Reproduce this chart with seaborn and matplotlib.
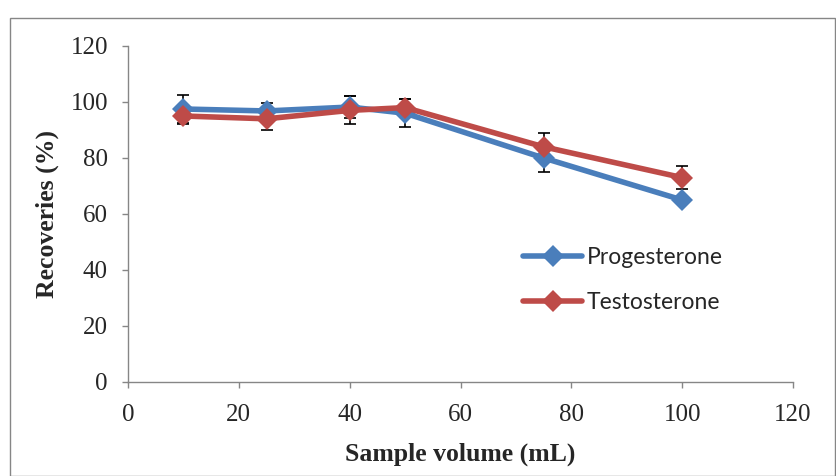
import pandas as pd
import matplotlib.pyplot as plt
import seaborn as sns
from matplotlib.patches import Rectangle

# data
volume = [10, 25, 40, 50, 75, 100]
prog = [97.5, 96.8, 98.2, 96.0, 80.0, 65.0]
prog_err = [5, 3, 4, 5, 5, 1]
testo = [95.0, 94.0, 97.0, 98.0, 84.0, 73.0]
testo_err = [3, 4, 5, 3, 5, 4]
x_ticks = [0, 20, 40, 60, 80, 100, 120]
y_ticks = [0, 20, 40, 60, 80, 100, 120]

df = pd.DataFrame({
    'volume': volume * 2,
    'recovery': prog + testo,
    'err': prog_err + testo_err,
    'compound': ['Progesterone'] * len(volume) + ['Testosterone'] * len(volume),
})

sns.set_theme(style="white")
plt.rcParams['font.family'] = ['Liberation Serif', 'DejaVu Serif']

colors = {'Progesterone': '#4A7EBB', 'Testosterone': '#BE4B48'}

fig = plt.figure(figsize=(8.36, 4.76), dpi=100)
ax = fig.add_axes([128 / 836, 1 - 382 / 476, (793 - 128) / 836, (382 - 46) / 476])

# error bars first so the lines sit on top
for name, grp in df.groupby('compound'):
    ax.errorbar(grp['volume'], grp['recovery'], yerr=grp['err'], fmt='none',
                ecolor='black', elinewidth=1.2, capsize=4.5, capthick=1.2, zorder=2)

sns.lineplot(data=df, x='volume', y='recovery', hue='compound', palette=colors,
             marker='D', markersize=11.5, markeredgewidth=0, linewidth=4,
             errorbar=None, ax=ax, zorder=3)

ax.set_xlim(0, 120)
ax.set_ylim(0, 120)
ax.set_xticks(x_ticks)
ax.set_yticks(y_ticks)
ax.tick_params(axis='both', which='major', labelsize=18, direction='out',
               length=4.5, width=1, color='#868686', left=True, bottom=True)
ax.tick_params(axis='x', pad=11)
ax.tick_params(axis='y', pad=10)
for side in ['top', 'right']:
    ax.spines[side].set_visible(False)
for side in ['left', 'bottom']:
    ax.spines[side].set_color('#868686')
    ax.spines[side].set_linewidth(1)

ax.set_xlabel('Sample volume (mL)', fontsize=18.5, fontweight='bold', labelpad=12)
ax.set_ylabel('Recoveries (%)', fontsize=18.5, fontweight='bold', labelpad=8)

leg = ax.legend(loc='upper left', bbox_to_anchor=(0.58, 0.43), frameon=False,
                prop={'family': 'Lato', 'size': 16.5}, handlelength=2.6,
                labelspacing=1.05, handletextpad=0.2, borderaxespad=0)

# outer chart border
fig.patches.append(Rectangle((10 / 836, 0), 1 - 10 / 836 - 0.001, 1 - 18 / 476,
                             transform=fig.transFigure, fill=False,
                             edgecolor='#868686', linewidth=1))

fig.savefig('out.png', dpi=100)
